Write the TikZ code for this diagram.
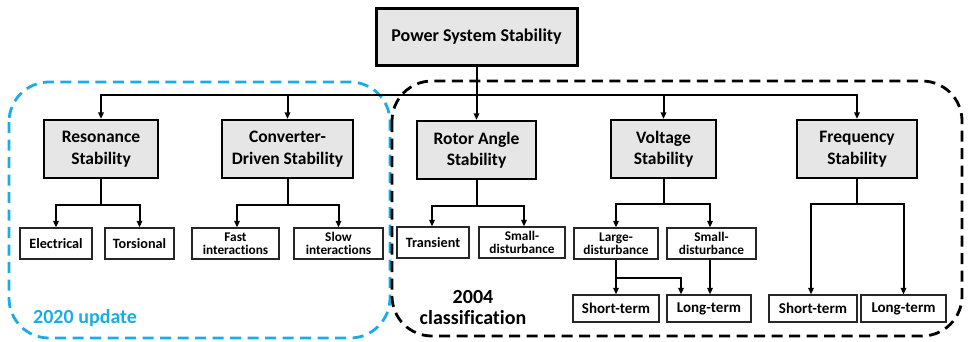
\documentclass[tikz,border=0pt]{standalone}
\usepackage{fontspec}
\setmainfont{Carlito}[Ligatures=NoCommon]
\usetikzlibrary{arrows.meta}
\definecolor{boxgray}{HTML}{E6E6E6}
\definecolor{upblue}{HTML}{1AACE6}
\tikzset{
  topbox/.style={draw, line width=3pt, fill=boxgray, inner sep=0pt, align=center,
    minimum width=201pt, minimum height=57pt, font=\fontsize{18}{22}\selectfont\bfseries},
  midbox/.style={draw, line width=2.2pt, fill=boxgray, inner sep=0pt, align=center,
    minimum height=58pt, font=\fontsize{17.5}{21.5}\selectfont\bfseries},
  leafbox/.style={draw=black!85, line width=1.3pt, fill=white, inner sep=0pt, align=center,
    minimum height=31pt, font=\fontsize{13.3}{12.5}\selectfont\bfseries},
  leafone/.style={leafbox, font=\fontsize{14.2}{15}\selectfont\bfseries},
  termbox/.style={draw=black!85, line width=1.3pt, fill=white, inner sep=0pt, align=center,
    minimum height=27pt, font=\fontsize{15}{16}\selectfont\bfseries},
  conn/.style={line width=2pt, -{Triangle[length=6.5pt,width=5.5pt]}},
  grouprect/.style={line width=2.8pt, dash pattern=on 11pt off 6.5pt, rounded corners=40pt},
}
\begin{document}
\begin{tikzpicture}[x=1pt,y=-1pt]
\useasboundingbox (0,0) rectangle (968,341);
% group frames
\draw[grouprect, draw=upblue] (9,82) rectangle (390,338);
\draw[grouprect, draw=black] (392,81) rectangle (962,336);

% nodes
\node[topbox] (top) at (476.5,36.5) {Power System Stability};
\node[midbox, minimum width=114pt] (res) at (101,149) {Resonance\\Stability};
\node[midbox, minimum width=131pt] (conv) at (287.5,149) {Converter-\\Driven Stability};
\node[midbox, minimum width=119pt] (rot) at (476.5,150) {Rotor Angle\\Stability};
\node[midbox, minimum width=105pt] (volt) at (663.5,149) {Voltage\\Stability};
\node[midbox, minimum width=120pt] (freq) at (857,149) {Frequency\\Stability};

\node[leafone, minimum width=72pt] (elec) at (56,243.5) {Electrical};
\node[leafone, minimum width=69pt] (tors) at (139.5,243.5) {Torsional};
\node[leafbox, minimum width=87pt] (fast) at (235.5,243.5) {Fast\\interactions};
\node[leafbox, minimum width=89pt] (slow) at (338.5,243.5) {Slow\\interactions};
\node[leafone, minimum width=72pt] (trans) at (433,242.5) {Transient};
\node[leafbox, minimum width=86pt] (smallr) at (522,242.5) {Small-\\disturbance};
\node[leafbox, minimum width=84pt] (large) at (616,243.5) {Large-\\disturbance};
\node[leafbox, minimum width=89pt] (smallv) at (711.5,243.5) {Small-\\disturbance};

\node[termbox, minimum width=86pt] (shortv) at (616,308.5) {Short-term};
\node[termbox, minimum width=84pt] (longv) at (709,308.5) {Long-term};
\node[termbox, minimum width=88pt] (shortf) at (813,308.5) {Short-term};
\node[termbox, minimum width=85pt] (longf) at (903.5,308.5) {Long-term};

% connectors from the top
\draw[conn] (top.south) -- ++(0,28) -| (res.north);
\draw[conn] (top.south) -- ++(0,28) -| (conv.north);
\draw[conn] (top.south) -- (rot.north);
\draw[conn] (top.south) -- ++(0,28) -| (volt.north);
\draw[conn] (top.south) -- ++(0,28) -| (freq.north);

% second level branches
\draw[conn] (res.south) -- ++(0,26) -| (elec.north);
\draw[conn] (res.south) -- ++(0,26) -| (tors.north);
\draw[conn] (conv.south) -- ++(0,26) -| ([xshift=1.5pt]fast.north);
\draw[conn] (conv.south) -- ++(0,26) -| (slow.north);
\draw[conn] (rot.south) -- ++(0,26) -| ([xshift=-1pt]trans.north);
\draw[conn] (rot.south) -- ++(0,26) -| ([xshift=2pt]smallr.north);
\draw[conn] (volt.south) -- ++(0,25) -| (large.north);
\draw[conn] (volt.south) -- ++(0,25) -| ([xshift=-1.5pt]smallv.north);
\draw[conn] (freq.south) -- ++(0,25) -| ([xshift=-2pt]shortf.north);
\draw[conn] (freq.south) -- ++(0,25) -| (longf.north);

% third level (voltage)
\draw[conn] (large.south) -- (shortv.north);
\draw[conn] (large.south) -- ++(0,18) -| ([xshift=-28pt]longv.north);
\draw[conn] ([xshift=-1.5pt]smallv.south) -- ([xshift=-1.5pt]smallv.south |- longv.north);

% labels
\node[anchor=west, text=upblue, font=\fontsize{20}{22}\selectfont\bfseries, inner sep=0pt] (lbl2020) at (33,318) {2020 update};
\node[align=center, font=\fontsize{20}{21}\selectfont\bfseries, inner sep=0pt] (lbl2004) at (473,307.5) {2004\\classification};
\end{tikzpicture}
\end{document}
